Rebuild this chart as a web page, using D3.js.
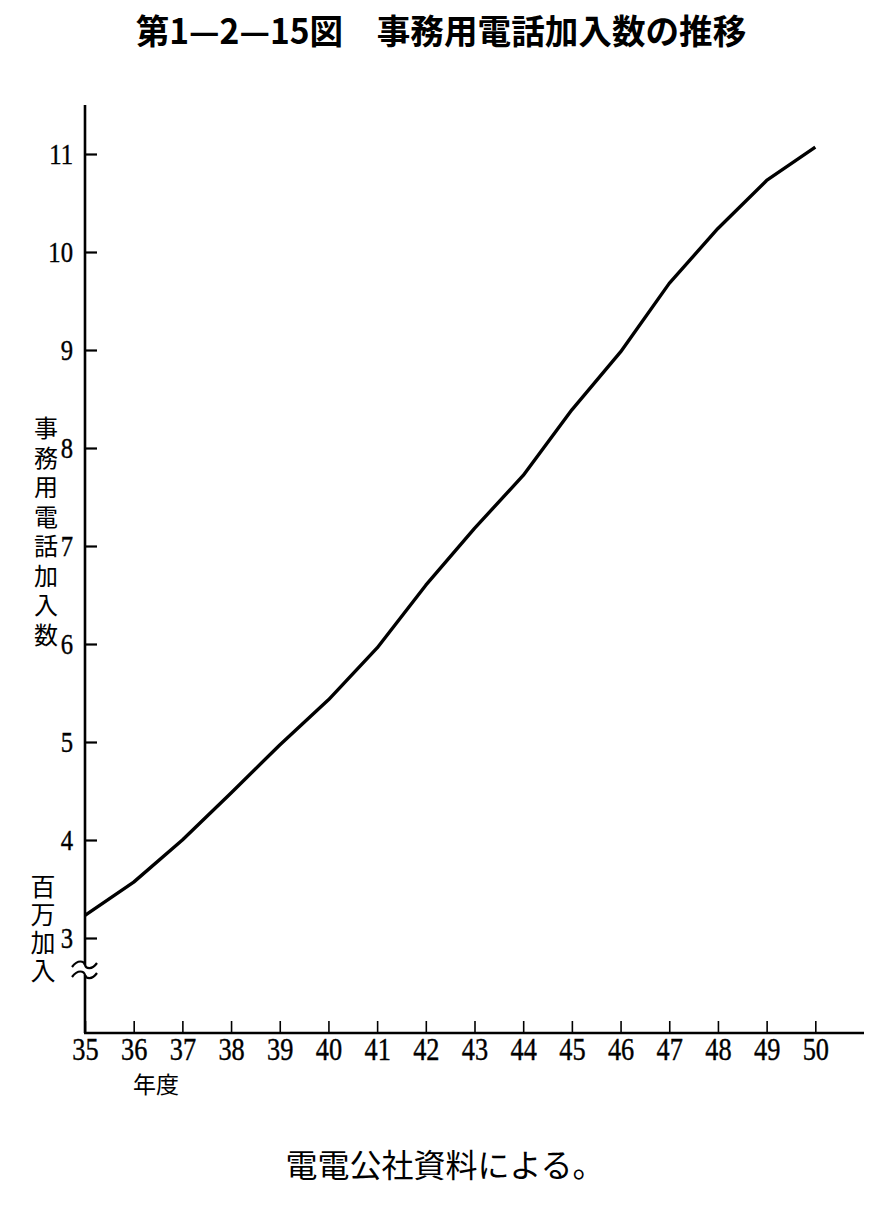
<!DOCTYPE html>
<html><head><meta charset="utf-8">
<script src="https://cdn.jsdelivr.net/npm/d3@7"></script>
<style>
body{margin:0;background:#fff;}
svg{display:block;}
</style></head>
<body>
<svg id="c" width="885" height="1205"></svg>
<script>
const years = [35,36,37,38,39,40,41,42,43,44,45,46,47,48,49,50];
const subscribers = [3.23,3.57,4.0,4.48,4.97,5.43,5.96,6.6,7.18,7.72,8.39,8.98,9.68,10.24,10.73,11.07];
const yTicks = [3,4,5,6,7,8,9,10,11];
const titleText = "第1—2—15図　事務用電話加入数の推移";
const yTitle = "事務用電話加入数";
const yUnit = "百万加入";
const xUnit = "年度";
const source = "電電公社資料による。";

const svg = d3.select("#c");
const x = d3.scaleLinear().domain([35,51]).range([85,864]);
const y = d3.scaleLinear().domain([3,11]).range([938,154]);
const x0 = x(35), yBase = 1033, yTop = y(11.5);
const serif = "'Liberation Serif','DejaVu Serif',serif";
const cjk = "'Noto Sans CJK JP',sans-serif";

// title
svg.append("text").attr("x",0).attr("y",0).attr("text-anchor","middle")
  .attr("font-family",cjk).attr("font-weight","bold").attr("font-size",30)
  .attr("transform","translate(441,44) scale(1.12,1.15)")
  .text(titleText);

// y axis
const yAxis = d3.axisLeft(y).tickValues(yTicks).tickSize(-12).tickPadding(0).tickFormat(d3.format("d"));
const gy = svg.append("g").attr("transform",`translate(${x0},0)`).call(yAxis);
gy.select(".domain").remove();
gy.selectAll(".tick line").attr("stroke","#000").attr("stroke-width",2.2);
gy.selectAll(".tick text").attr("font-family",serif).attr("font-size",29).attr("fill","#000")
  .attr("stroke","#000").attr("stroke-width",0.4)
  .attr("x",0).attr("dy","0.34em").attr("transform","translate(-12,0) scale(0.85,1)");
svg.append("line").attr("x1",x0).attr("x2",x0).attr("y1",yTop).attr("y2",yBase)
  .attr("stroke","#000").attr("stroke-width",2.6);

// x axis
const xAxis = d3.axisBottom(x).tickValues(years).tickSize(-12).tickPadding(0).tickFormat(d3.format("d"));
const gx = svg.append("g").attr("transform",`translate(0,${yBase})`).call(xAxis);
gx.select(".domain").remove();
gx.selectAll(".tick line").attr("stroke","#000").attr("stroke-width",1.6);
gx.selectAll(".tick text").attr("font-family",serif).attr("font-size",31).attr("fill","#000")
  .attr("stroke","#000").attr("stroke-width",0.4)
  .attr("y",0).attr("dy","0.71em").attr("transform","translate(0,5) scale(0.85,1)");
svg.append("line").attr("x1",x0-1).attr("x2",x(51)).attr("y1",yBase).attr("y2",yBase)
  .attr("stroke","#000").attr("stroke-width",2.6);

// axis break
const yb = 970;
svg.append("rect").attr("x",x0-3).attr("y",yb-5).attr("width",6).attr("height",10).attr("fill","#fff");
[yb-5, yb+5].forEach(yy=>{
  svg.append("path").attr("d",`M${x0-13},${yy+2} C${x0-7},${yy-6} ${x0-1},${yy-4} ${x0},${yy} S${x0+7},${yy+5} ${x0+12},${yy-2}`)
    .attr("fill","none").attr("stroke","#000").attr("stroke-width",2.2);
});

// line
const line = d3.line().x((d,i)=>x(years[i])).y(d=>y(d));
svg.append("path").datum(subscribers).attr("d",line)
  .attr("fill","none").attr("stroke","#000").attr("stroke-width",3.4).attr("stroke-linejoin","round");

// vertical titles
svg.append("text").attr("x",46).attr("y",416)
  .attr("font-family",cjk).attr("font-size",24).attr("fill","#000")
  .style("writing-mode","vertical-rl").attr("letter-spacing",5.5).text(yTitle);
svg.append("text").attr("x",43).attr("y",874)
  .attr("font-family",cjk).attr("font-size",25).attr("fill","#000")
  .style("writing-mode","vertical-rl").attr("letter-spacing",3).text(yUnit);

svg.append("text").attr("x",156).attr("y",1093).attr("text-anchor","middle")
  .attr("font-family",cjk).attr("font-size",23).attr("fill","#000").text(xUnit);

// source
svg.append("text").attr("x",445).attr("y",1177).attr("text-anchor","middle")
  .attr("font-family",cjk).attr("font-size",32).attr("fill","#000").text(source);
</script>
</body></html>
